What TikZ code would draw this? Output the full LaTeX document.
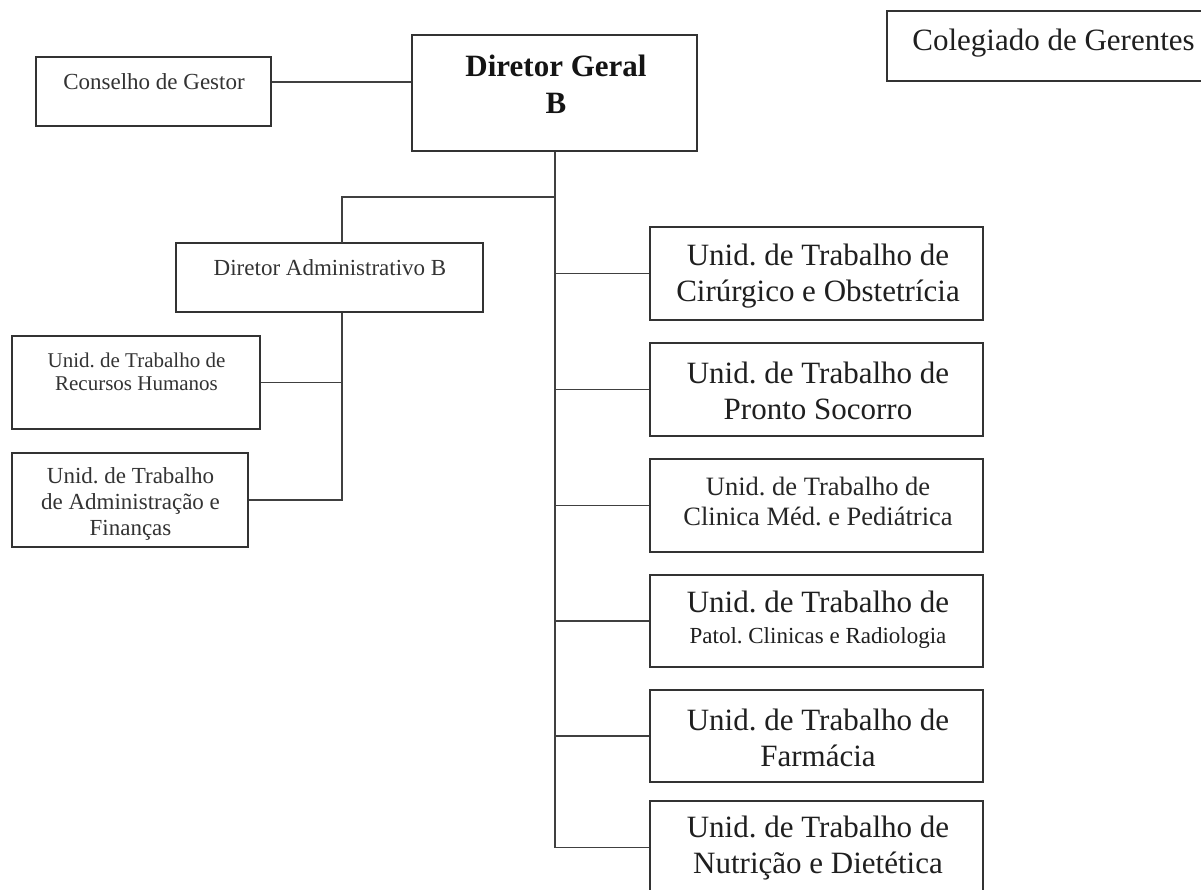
\documentclass[tikz,border=0pt]{standalone}
\usepackage{fontspec}
\setmainfont{Liberation Serif}
\frenchspacing
\begin{document}
\begin{tikzpicture}[x=1pt,y=-1pt,
  box/.style={draw=black!80, line width=1.8pt, rectangle, inner sep=0pt},
  link/.style={draw=black!75, line width=1.6pt},
  big/.style={text=black!88, align=center, font=\fontsize{31}{36}\selectfont},
  bigbold/.style={text=black!92, align=center, font=\fontsize{31}{37}\selectfont\bfseries},
  mid/.style={text=black!85, align=center, font=\fontsize{26.5}{30}\selectfont},
  small/.style={text=black!80, align=center, font=\fontsize{23}{26}\selectfont},
  tiny/.style={text=black!80, align=center, font=\fontsize{21}{23}\selectfont},
  unit/.style={box, minimum width=333pt, minimum height=93pt}]
% page frame
\clip (0,0) rectangle (1201,890);
\fill[white] (0,0) rectangle (1201,890);

% boxes
\node[box, minimum width=235pt, minimum height=69pt] (cg) at (153.5,91.5) {};
\node[box, minimum width=285pt, minimum height=116pt] (dg) at (554.5,93) {};
\node[box, minimum width=343pt, minimum height=70pt] (col) at (1058.5,46) {};
\node[box, minimum width=307pt, minimum height=69pt] (da) at (329.5,277.5) {};
\node[box, minimum width=248pt, minimum height=93pt] (rh) at (136,382.5) {};
\node[box, minimum width=236pt, minimum height=94pt] (af) at (130,500) {};
\node[unit] (u1) at (816.5,273.5) {};
\node[unit] (u2) at (816.5,389.5) {};
\node[unit] (u3) at (816.5,505.5) {};
\node[unit, minimum height=92pt] (u4) at (816.5,621) {};
\node[unit, minimum height=92pt] (u5) at (816.5,736) {};
\node[unit] (u6) at (816.5,847.5) {};

% labels
\node[small] (tcg) at (154,82) {Conselho de Gestor};
\node[bigbold] (tdg) at (556,84) {Diretor Geral\\B};
\node[big] (tcol) at (1053.5,43) {Colegiado de Gerentes};
\node[small] (tda) at (330,268) {Diretor Administrativo B};
\node[tiny] (trh) at (136.5,372) {Unid. de Trabalho de\\Recursos Humanos};
\node[small] (taf) at (130.5,504) {Unid. de Trabalho\\de Administração e\\Finanças};
\node[big] (tu1) at (818,276) {Unid. de Trabalho de\\Cirúrgico e Obstetrícia};
\node[big] (tu2) at (818,391) {Unid. de Trabalho de\\Pronto Socorro};
\node[mid] (tu3) at (818,501) {Unid. de Trabalho de\\Clinica Méd. e Pediátrica};
\node[big, font=\fontsize{31}{31}\selectfont] (tu4) at (818,620)
  {Unid. de Trabalho de\\{\fontsize{23}{23}\selectfont Patol. Clinicas e Radiologia}};
\node[big] (tu5) at (818,738) {Unid. de Trabalho de\\Farmácia};
\node[big] (tu6) at (818,848) {Unid. de Trabalho de\\Nutrição e Dietética};

% junction points
\coordinate (j1) at (555,197);
\coordinate (daTop) at (342,243);

% connectors
\draw[link] ([yshift=9.5pt]cg.east) -- ([yshift=9.5pt]cg.east -| dg.west);
\draw[link] (dg.south -| j1) -- (j1 |- u6.west) -- (u6.west);
\foreach \u in {u1,u2,u3,u4,u5}
  \draw[link] (j1 |- \u.west) -- (\u.west);
\draw[link] (j1) -| (daTop);
\draw[link] (da.south -| daTop) -- (daTop |- af.east) -- (af.east);
\draw[link] (rh.east) -- (rh.east -| daTop);
\end{tikzpicture}
\end{document}
